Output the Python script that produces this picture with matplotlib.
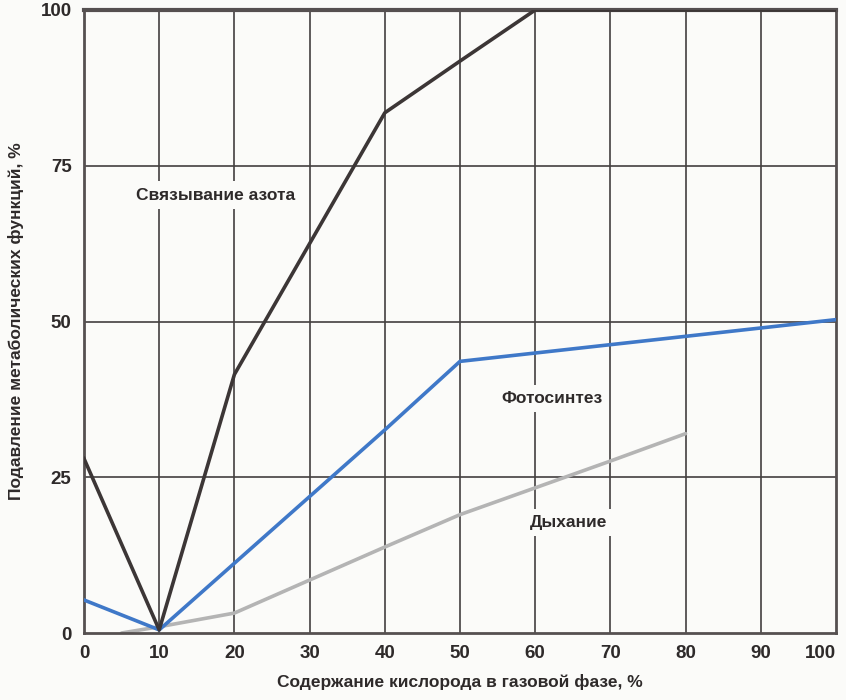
import matplotlib.pyplot as plt

# data
x_nitrogen = [0, 10, 20, 40, 50, 60, 100]
y_nitrogen = [28, 0.5, 41.5, 83.5, 91.8, 100, 100]

x_photo = [0, 10, 20, 40, 50, 100]
y_photo = [5.3, 0.5, 11.2, 32.6, 43.6, 50.3]

x_resp = [5, 10, 20, 30, 40, 50, 60, 70, 80]
y_resp = [0, 1.0, 3.2, 8.5, 13.8, 19.0, 23.3, 27.6, 32.0]

x_ticks = [0, 10, 20, 30, 40, 50, 60, 70, 80, 90, 100]
y_ticks = [0, 25, 50, 75, 100]

labels = [
    ('Связывание азота', 17.5, 70.3),
    ('Фотосинтез', 62.2, 37.7),
    ('Дыхание', 64.4, 17.7),
]

plt.rcParams['font.family'] = ['Liberation Sans', 'DejaVu Sans']

fig = plt.figure(figsize=(8.46, 7.0), dpi=100)
fig.patch.set_facecolor('#fbfbf9')
ax = fig.add_axes([84 / 846, 1 - 633 / 700, 752 / 846, 623 / 700])
ax.set_facecolor('#fbfbf9')

grid_col = '#433f3f'
for xv in x_ticks[1:-1]:
    ax.axvline(xv, color=grid_col, lw=1.2, zorder=1)
for yv in y_ticks[1:-1]:
    ax.axhline(yv, color=grid_col, lw=1.2, zorder=1)

ax.plot(x_resp, y_resp, color='#b4b4b4', lw=2.6, zorder=2, solid_capstyle='round')
ax.plot(x_photo, y_photo, color='#3f78c8', lw=2.6, zorder=3)
ax.plot(x_nitrogen, y_nitrogen, color='#3c3636', lw=2.6, zorder=4)

for txt, xv, yv in labels:
    ax.text(xv, yv, txt, ha='center', va='center', fontsize=12.5, fontweight='bold',
            color='#2e2a2a', zorder=5,
            bbox=dict(boxstyle='square,pad=0.35', fc='#fbfbf9', ec='none'))

ax.set_xlim(0, 100)
ax.set_ylim(0, 100)
ax.set_xticks(x_ticks)
ax.set_yticks(y_ticks)
ax.tick_params(length=0, labelsize=13.5, colors='#2e2a2a', pad=9)
for lab in ax.get_xticklabels() + ax.get_yticklabels():
    lab.set_fontweight('bold')
ax.get_xticklabels()[-1].set_horizontalalignment('right')
for s in ax.spines.values():
    s.set_color('#555050')
    s.set_linewidth(2)
ax.spines['top'].set_linewidth(3)

ax.set_xlabel('Содержание кислорода в газовой фазе, %', fontsize=12.5,
              fontweight='bold', color='#2e2a2a', labelpad=8)
ax.set_ylabel('Подавление метаболических функций, %', fontsize=12.5,
              fontweight='bold', color='#2e2a2a', labelpad=12)

fig.savefig('out.png', dpi=100, facecolor=fig.get_facecolor())
